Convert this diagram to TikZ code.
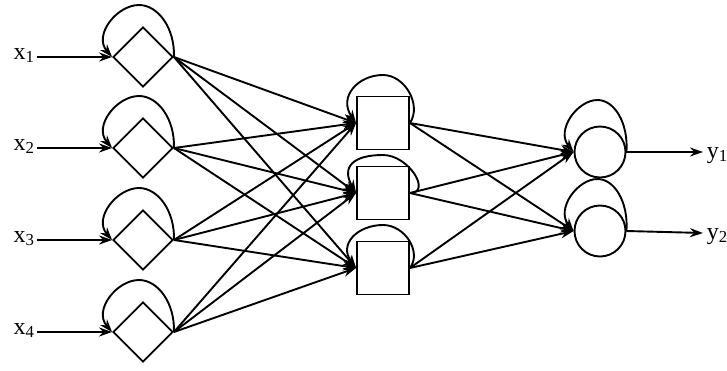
\documentclass[tikz,border=0pt]{standalone}
\usepackage{fontspec}
\setmainfont{Liberation Serif}
\usetikzlibrary{shapes.geometric,arrows.meta}
\begin{document}
\begin{tikzpicture}[x=1pt,y=-1pt,line width=1.9pt,
  arr/.style={-{Stealth[length=13pt,width=9pt]}},
  dia/.style={draw,shape=diamond,minimum width=60pt,minimum height=60pt,inner sep=0pt},
  sq/.style={draw,rectangle,minimum width=52pt,minimum height=53pt,inner sep=0pt},
  cir/.style={draw,circle,minimum size=51pt,inner sep=0pt},
  lab/.style={font=\fontsize{24}{24}\selectfont,inner sep=0pt}]
\useasboundingbox (0,0) rectangle (727,370);
% input layer
\foreach \i/\y in {1/57,2/148,3/240,4/332}{
  \node[dia] (d\i) at (143,\y) {};
  \node[lab,anchor=base] (x\i) at (24,\y+2) {x\textsubscript{\i}};
  \coordinate (xs\i) at (37,\y);
  \draw[arr] (xs\i) -- (d\i.west);
  \draw[arr] (d\i.east) .. controls +(1,-29) and +(19,0) .. ++(-35,-52)
             .. controls +(-22,0) and +(-19,-22) .. (d\i.west);
}
% hidden layer
\node[sq] (s1) at (383,123) {};
\node[sq] (s2) at (383,193) {};
\node[sq] (s3) at (383,268) {};
\draw[arr] (s1.east) .. controls +(12,-18) and +(22,0) .. ++(-27,-48)
           .. controls +(-25,0) and +(-18,-26) .. (s1.west);
\draw[arr] (s2.east) .. controls +(22,0) and +(26,0) .. ++(-27,-38)
           .. controls +(-30,0) and +(-15,-26) .. (s2.west);
\draw[arr] (s3.east) .. controls +(12,-16) and +(22,0) .. ++(-27,-43)
           .. controls +(-25,0) and +(-18,-24) .. (s3.west);
% output layer
\node[cir] (c1) at (600,152) {};
\node[cir] (c2) at (600,231) {};
\foreach \j in {1,2}{
  \draw[arr] (c\j.east) .. controls +(2,-29) and +(17,0) .. ++(-29,-52)
             .. controls +(-20,0) and +(-18,-22) .. (c\j.west);
}
% connections
\foreach \i in {1,2,3,4}{
  \foreach \j in {1,2,3}{
    \draw[arr] (d\i.east) -- (s\j.west);
  }
}
\foreach \i in {1,2,3}{
  \foreach \j in {1,2}{
    \draw[arr] (s\i.east) -- (c\j.west);
  }
}
% outputs
\coordinate (ye1) at (703,152);
\coordinate (ye2) at (703,233);
\draw[arr] (c1.east) -- (ye1);
\draw[arr] (c2.east) -- (ye2);
\node[lab,anchor=base west] (y1) at (706,158) {y\textsubscript{1}};
\node[lab,anchor=base west] (y2) at (706,239) {y\textsubscript{2}};
\end{tikzpicture}
\end{document}
